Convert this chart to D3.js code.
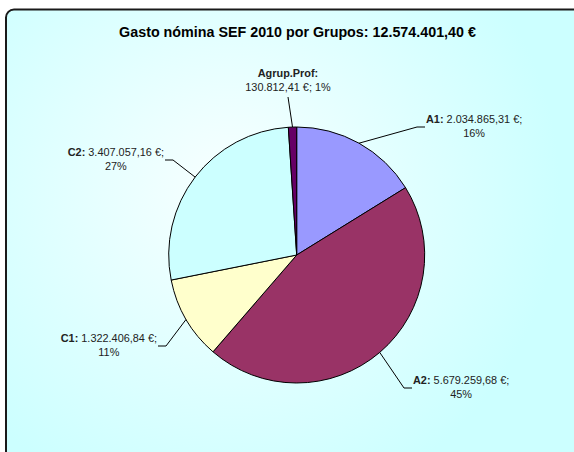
<!DOCTYPE html>
<html>
<head>
<meta charset="utf-8">
<script src="https://cdn.jsdelivr.net/npm/d3@7"></script>
<style>
  body { margin: 0; background: #fff; }
  svg { display: block; }
</style>
</head>
<body>
<div id="container"></div>
<script>
var width = 574, height = 452;

// data
var groups = ["A1", "A2", "C1", "C2", "Agrup.Prof"];
var amounts = [2034865.31, 5679259.68, 1322406.84, 3407057.16, 130812.41];
var amountLabels = ["2.034.865,31 €;", "5.679.259,68 €;", "1.322.406,84 €;", "3.407.057,16 €;", "130.812,41 €; 1%"];
var pctLabels = ["16%", "45%", "11%", "27%", ""];
var colors = ["#9999ff", "#993366", "#ffffcc", "#ccffff", "#660066"];
var title = "Gasto nómina SEF 2010 por Grupos: 12.574.401,40 €";

// where each leader line ends (label side)
var labelAnchor = [
  {x: 425, y: 127, side: "right"},
  {x: 412, y: 388, side: "right"},
  {x: 158, y: 346, side: "left"},
  {x: 165, y: 160, side: "left"},
  {x: 288, y: 97,  side: "top"}
];

var cx = 296.7, cy = 255, r = 128;

var svg = d3.select("#container").append("svg")
    .attr("width", width)
    .attr("height", height);

var defs = svg.append("defs");
var grad = defs.append("radialGradient")
    .attr("id", "bg")
    .attr("gradientUnits", "userSpaceOnUse")
    .attr("cx", 230).attr("cy", 190).attr("r", 330);
grad.append("stop").attr("offset", "0").attr("stop-color", "#f8ffff");
grad.append("stop").attr("offset", "1").attr("stop-color", "#ccffff");

svg.append("rect")
    .attr("x", 6).attr("y", 9.5)
    .attr("width", 620).attr("height", 520)
    .attr("rx", 8).attr("ry", 8)
    .attr("fill", "url(#bg)")
    .attr("stroke", "#1a1a1a")
    .attr("stroke-width", 2);

svg.append("text")
    .attr("x", 297.5).attr("y", 37)
    .attr("text-anchor", "middle")
    .style("font-family", "Liberation Sans, Arial, sans-serif")
    .style("font-size", "14.3px")
    .style("font-weight", "bold")
    .attr("fill", "#000")
    .text(title);

var pie = d3.pie().sort(null).value(function(d) { return d; });
var arcs = pie(amounts);
var arc = d3.arc().innerRadius(0).outerRadius(r);

var g = svg.append("g").attr("transform", "translate(" + cx + "," + cy + ")");

g.selectAll("path.slice")
    .data(arcs)
  .enter().append("path")
    .attr("class", "slice")
    .attr("d", arc)
    .attr("fill", function(d, i) { return colors[i]; })
    .attr("stroke", "#000")
    .attr("stroke-width", 1)
    .attr("stroke-linejoin", "round");

// leader lines + labels
var labels = svg.append("g")
    .style("font-family", "Liberation Sans, Arial, sans-serif")
    .style("font-size", "10.9px")
    .attr("fill", "#222");

arcs.forEach(function(d, i) {
  var mid = (d.startAngle + d.endAngle) / 2;
  var px = cx + r * Math.sin(mid), py = cy - r * Math.cos(mid);
  var a = labelAnchor[i];
  var pts;
  if (a.side === "right") pts = [[px, py], [a.x - 8, a.y], [a.x, a.y]];
  else if (a.side === "left") pts = [[px, py], [a.x + 8, a.y], [a.x, a.y]];
  else pts = [[px, py], [a.x, a.y]];

  labels.append("path")
      .attr("d", d3.line()(pts))
      .attr("fill", "none")
      .attr("stroke", "#000")
      .attr("stroke-width", 1);

  if (a.side === "top") {
    labels.append("text")
        .attr("x", a.x).attr("y", a.y - 20)
        .attr("text-anchor", "middle")
        .style("font-weight", "bold")
        .text(groups[i] + ":");
    labels.append("text")
        .attr("x", a.x).attr("y", a.y - 6)
        .attr("text-anchor", "middle")
        .text(amountLabels[i]);
    return;
  }

  var t = labels.append("text").attr("y", a.y - 4);
  t.append("tspan").style("font-weight", "bold").text(groups[i] + ": ");
  t.append("tspan").text(amountLabels[i]);
  var w = t.node().getComputedTextLength();
  var x0 = a.side === "right" ? a.x + 1 : a.x - 1 - w;
  t.attr("x", x0);
  labels.append("text")
      .attr("x", x0 + w / 2).attr("y", a.y + 10)
      .attr("text-anchor", "middle")
      .text(pctLabels[i]);
});
</script>
</body>
</html>
